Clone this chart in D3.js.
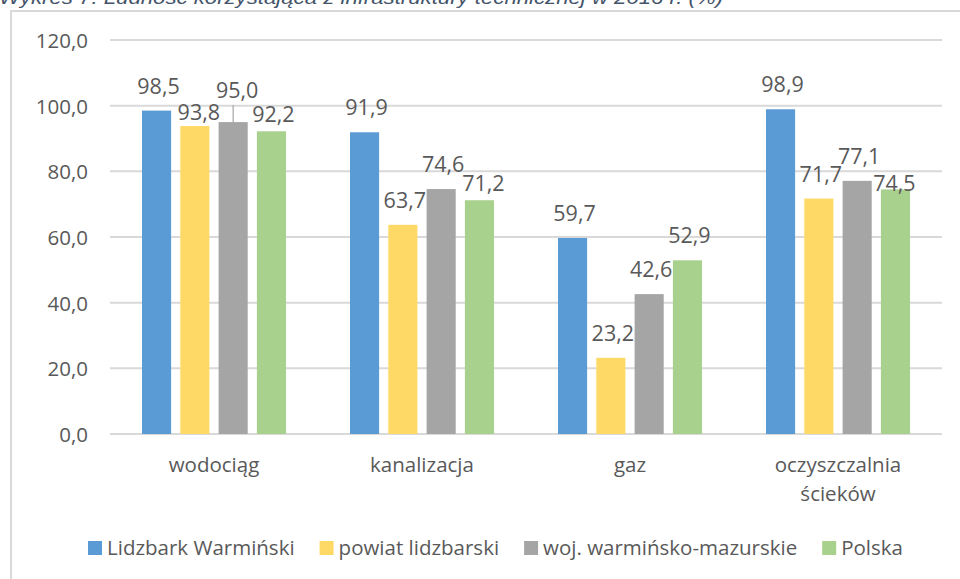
<!DOCTYPE html>
<html>
<head>
<meta charset="utf-8">
<script src="https://cdn.jsdelivr.net/npm/d3@7"></script>
<style>
  body { margin: 0; background: #fff; }
  svg { display: block; }
</style>
</head>
<body>
<div id="chart"></div>
<script>
// dane
const categories = ["wodociąg", "kanalizacja", "gaz", "oczyszczalnia ścieków"];
const seriesNames = ["Lidzbark Warmiński", "powiat lidzbarski", "woj. warmińsko-mazurskie", "Polska"];
const lidzbark = [98.5, 91.9, 59.7, 98.9];
const powiat = [93.8, 63.7, 23.2, 71.7];
const wojewodztwo = [95.0, 74.6, 42.6, 77.1];
const polska = [92.2, 71.2, 52.9, 74.5];
const yTicks = [0, 20, 40, 60, 80, 100, 120];

const seriesValues = [lidzbark, powiat, wojewodztwo, polska];
const colors = ["#5b9bd5", "#ffd966", "#a5a5a5", "#a9d18e"];

// przesunięcia etykiet ręcznie poprawione jak w oryginale (dx, dy od pozycji domyślnej)
const labelShift = {
  "0-1": [2, 11], "0-2": [2, -7], "0-3": [0, 8],
  "1-3": [2, 8], "3-3": [-3, 19]
};

const width = 960, height = 579;
const margin = { left: 110, right: 18, top: 40, bottom: 145 };
const fmt = v => d3.format(".1f")(v).replace(".", ",");
const textColor = "#595959";
const font = "'Open Sans', 'Noto Sans', sans-serif";

const svg = d3.select("#chart")
  .append("svg")
  .attr("width", width)
  .attr("height", height)
  .style("font-family", font);

// tytuł (ucięty u góry, jak na zrzucie)
svg.append("text")
  .attr("x", -1)
  .attr("y", 4)
  .attr("fill", "#44546a")
  .style("font-family", "'Liberation Sans', Arial, sans-serif")
  .style("font-style", "italic")
  .style("font-size", "19px")
  .attr("textLength", 724)
  .attr("lengthAdjust", "spacingAndGlyphs")
  .text("Wykres 7. Ludność korzystająca z infrastruktury technicznej w 2016 r. (%)");

// ramka wykresu
svg.append("path")
  .attr("d", `M11,${height} L11,11 L${width},11`)
  .attr("fill", "none")
  .attr("stroke", "#d9d9d9")
  .attr("stroke-width", 2);

const x0 = d3.scaleBand()
  .domain(categories)
  .range([margin.left, width - margin.right]);

const x1 = d3.scaleBand()
  .domain(d3.range(seriesNames.length))
  .range([32, x0.bandwidth() - 32])
  .paddingInner(0.24);

const y = d3.scaleLinear()
  .domain([0, 120])
  .range([height - margin.bottom, margin.top]);

// siatka
svg.append("g")
  .selectAll("line")
  .data(yTicks)
  .join("line")
  .attr("x1", margin.left)
  .attr("x2", width - margin.right)
  .attr("y1", d => y(d))
  .attr("y2", d => y(d))
  .attr("stroke", "#d9d9d9")
  .attr("stroke-width", 2);

// oś Y - etykiety
const yAxis = svg.append("g")
  .attr("transform", `translate(${margin.left - 22},0)`)
  .call(d3.axisLeft(y).tickValues(yTicks).tickFormat(fmt).tickSize(0).tickPadding(0));
yAxis.select(".domain").remove();
yAxis.selectAll("text")
  .attr("fill", textColor)
  .style("font-family", font)
  .style("font-size", "20.5px")
  .attr("dy", "0.36em");

// słupki
const group = svg.append("g")
  .selectAll("g")
  .data(categories)
  .join("g")
  .attr("transform", d => `translate(${x0(d)},0)`);

group.selectAll("rect")
  .data((c, ci) => seriesValues.map((vals, si) => ({ ci, si, v: vals[ci] })))
  .join("rect")
  .attr("x", d => x1(d.si))
  .attr("y", d => y(d.v))
  .attr("width", x1.bandwidth())
  .attr("height", d => y(0) - y(d.v))
  .attr("fill", d => colors[d.si]);

// linia odniesienia dla 95,0
const leader = { ci: 0, si: 2 };
svg.append("line")
  .attr("x1", x0(categories[leader.ci]) + x1(leader.si) + x1.bandwidth() / 2)
  .attr("x2", x0(categories[leader.ci]) + x1(leader.si) + x1.bandwidth() / 2)
  .attr("y1", y(seriesValues[leader.si][leader.ci]) - 17)
  .attr("y2", y(seriesValues[leader.si][leader.ci]))
  .attr("stroke", "#a6a6a6")
  .attr("stroke-width", 1.2);

// etykiety danych
group.selectAll("text.lbl")
  .data((c, ci) => seriesValues.map((vals, si) => ({ ci, si, v: vals[ci] })))
  .join("text")
  .attr("class", "lbl")
  .attr("text-anchor", "middle")
  .attr("fill", textColor)
  .style("font-size", "21.5px")
  .attr("x", d => x1(d.si) + x1.bandwidth() / 2 + 2 + (labelShift[d.ci + "-" + d.si] || [0, 0])[0])
  .attr("y", d => y(d.v) - 17 + (labelShift[d.ci + "-" + d.si] || [0, 0])[1])
  .text(d => fmt(d.v));

// etykiety kategorii
const catLabels = svg.append("g")
  .selectAll("text")
  .data(categories)
  .join("text")
  .attr("text-anchor", "middle")
  .attr("fill", textColor)
  .style("font-size", "20.5px")
  .attr("x", d => x0(d) + x0.bandwidth() / 2)
  .attr("y", 472);

catLabels.each(function(d) {
  const t = d3.select(this);
  const words = d === "oczyszczalnia ścieków" ? ["oczyszczalnia", "ścieków"] : [d];
  words.forEach((w, i) => {
    t.append("tspan")
      .attr("x", x0(d) + x0.bandwidth() / 2)
      .attr("dy", i === 0 ? 0 : 29)
      .text(w);
  });
});

// legenda
const legend = svg.append("g");
const items = legend.selectAll("g")
  .data(seriesNames)
  .join("g");

items.append("rect")
  .attr("width", 14)
  .attr("height", 14)
  .attr("y", -7)
  .attr("fill", (d, i) => colors[i]);

items.append("text")
  .attr("x", 19)
  .attr("dy", "0.36em")
  .attr("fill", textColor)
  .style("font-size", "20.5px")
  .text(d => d);

let offset = 0;
items.each(function() {
  const w = this.querySelector("text").getComputedTextLength();
  d3.select(this).attr("transform", `translate(${offset},0)`);
  offset += 19 + w + 25;
});
const totalW = offset - 25;
legend.attr("transform", `translate(${495.5 - totalW / 2},548)`);
</script>
</body>
</html>
